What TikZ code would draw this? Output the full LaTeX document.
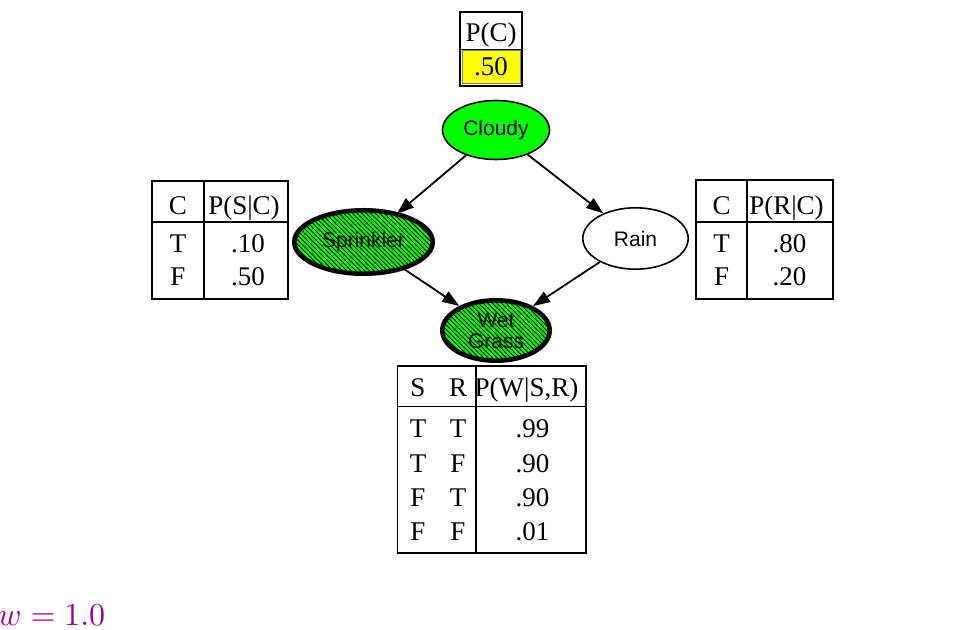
\documentclass[tikz,border=0pt]{standalone}
\usepackage{fontspec}
\setmainfont{Liberation Serif}
\setsansfont{Liberation Sans}
\usetikzlibrary{arrows.meta,shapes.geometric,patterns.meta}
\definecolor{nodegreen}{RGB}{0,255,0}
\definecolor{cptyellow}{RGB}{255,255,0}
\definecolor{weightpurple}{RGB}{150,0,150}

\begin{document}
\begin{tikzpicture}[x=0.5pt,y=-0.5pt,
  bnode/.style={ellipse,draw,line width=0.8pt,inner sep=0pt,align=center,
    font=\sffamily\fontsize{10.5}{10.5}\selectfont},
  obsnode/.style={bnode,line width=2.3pt,preaction={fill=nodegreen},
    pattern={Lines[angle=-45,distance=1.6pt,line width=0.45pt]}},
  cpt/.style={anchor=base,inner sep=0pt,font=\fontsize{13.5}{16}\selectfont},
  cptline/.style={line width=0.7pt},
  edge/.style={-{Triangle[length=8.5pt,width=6pt]},line width=0.9pt}]
\useasboundingbox (0,0) rectangle (974,630);

% nodes
\node[bnode,fill=nodegreen,minimum width=53.5pt,minimum height=29.5pt] (cloudy) at (496,130) {Cloudy};
\node[obsnode,minimum width=69.2pt,minimum height=31.7pt] (sprinkler) at (363.5,242) {Sprinkler};
\node[bnode,minimum width=52.7pt,minimum height=30.7pt] (rain) at (635.5,238.5) {Rain};
\node[obsnode,minimum width=53.7pt,minimum height=30.2pt] (wet) at (496,330.5) {Wet\\Grass};

% edges
\draw[edge] (cloudy) -- (sprinkler);
\draw[edge] (cloudy) -- (rain);
\draw[edge] (sprinkler) -- (wet);
\draw[edge] (rain) -- (wet);

% P(C)
\draw[cptline] (460,12) rectangle (522,86);
\draw[cptline] (460,49.5) -- (522,49.5);
\filldraw[fill=cptyellow,draw=black!50,line width=0.4pt] (462,50.5) rectangle (520,83.5);
\node[cpt] (pc) at (491,41.5) {P(C)};
\node[cpt] (pc-t) at (491,76) {.50};

% P(S|C)
\begin{scope}[cptline]
\draw (152,181) rectangle (288,299);
\draw (204,181) -- (204,299);
\draw (152,222) -- (288,222);
\end{scope}
\node[cpt] (sc-c) at (178,215) {C};
\node[cpt] (sc-p) at (244,215) {P(S|C)};
\node[cpt] (sc-t) at (178,253) {T};
\node[cpt] (sc-pt) at (248,253) {.10};
\node[cpt] (sc-f) at (178,286) {F};
\node[cpt] (sc-pf) at (248,286) {.50};

% P(R|C)
\begin{scope}[cptline]
\draw (696,180) rectangle (833,299);
\draw (747,180) -- (747,299);
\draw (696,222) -- (833,222);
\end{scope}
\node[cpt] (rc-c) at (721.5,215) {C};
\node[cpt] (rc-p) at (786.5,215) {P(R|C)};
\node[cpt] (rc-t) at (721.5,253) {T};
\node[cpt] (rc-pt) at (789.5,253) {.80};
\node[cpt] (rc-f) at (721.5,286) {F};
\node[cpt] (rc-pf) at (789.5,286) {.20};

% P(W|S,R)
\begin{scope}[cptline]
\draw (397.5,366) rectangle (586,553);
\draw (476,366) -- (476,553);
\draw (397.5,406.5) -- (586,406.5);
\end{scope}
\node[cpt] (wsr-s) at (418,396.5) {S};
\node[cpt] (wsr-r) at (458,396.5) {R};
\node[cpt] (wsr-p) at (526.5,396.5) {P(W|S,R)};
\node[cpt] (wsr-s1) at (418,437.5) {T};
\node[cpt] (wsr-r1) at (458,437.5) {T};
\node[cpt] (wsr-p1) at (532.5,437.5) {.99};
\node[cpt] (wsr-s2) at (418,473) {T};
\node[cpt] (wsr-r2) at (458,473) {F};
\node[cpt] (wsr-p2) at (532.5,473) {.90};
\node[cpt] (wsr-s3) at (418,506.5) {F};
\node[cpt] (wsr-r3) at (458,506.5) {T};
\node[cpt] (wsr-p3) at (532.5,506.5) {.90};
\node[cpt] (wsr-s4) at (418,540) {F};
\node[cpt] (wsr-r4) at (458,540) {F};
\node[cpt] (wsr-p4) at (532.5,540) {.01};

% weight
\node[anchor=base west,inner sep=0pt,text=weightpurple] (weight) at (-2.5,625) {\scalebox{1.6}{$w = 1.0$}};
\end{tikzpicture}
\end{document}
